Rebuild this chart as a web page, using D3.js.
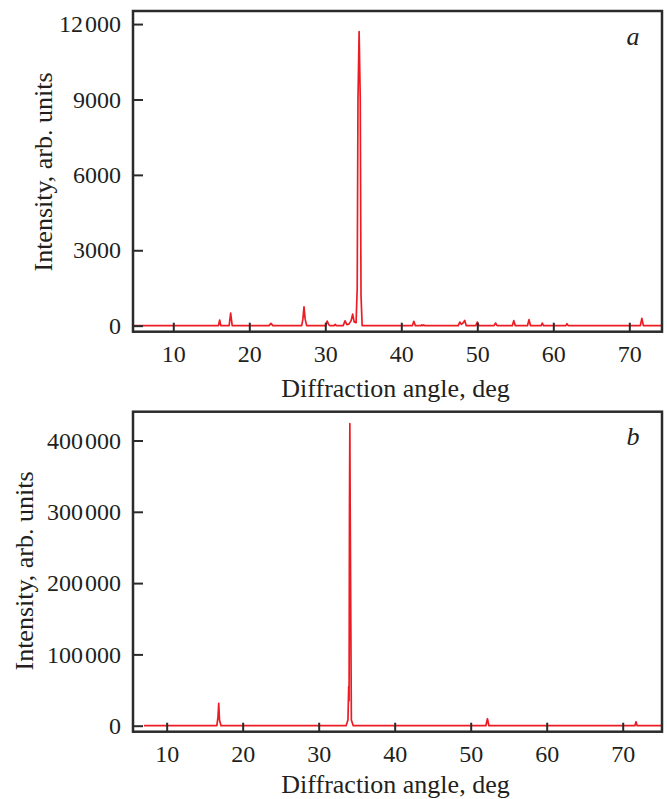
<!DOCTYPE html>
<html>
<head>
<meta charset="utf-8">
<script src="https://cdn.jsdelivr.net/npm/d3@7"></script>
<style>
  body { margin: 0; background: #fff; }
  svg { display: block; }
  text { font-family: "Liberation Serif", "Times New Roman", serif; fill: #231f20; }
</style>
</head>
<body>
<svg id="chart" width="667" height="799"></svg>
<script>
// diffraction pattern a: [angle, intensity]
var patternA = [
  [4.8, 0],
  [15.95, 0], [16.1, 225], [16.25, 0],
  [17.35, 0], [17.55, 500], [17.75, 0],
  [22.6, 0], [22.85, 90], [23.1, 0],
  [26.9, 0], [27.05, 260], [27.2, 750], [27.35, 260], [27.55, 0],
  [30.05, 0], [30.25, 185], [30.45, 40], [30.6, 0],
  [31.15, 0], [31.3, 50], [31.45, 0],
  [32.35, 0], [32.6, 190], [32.85, 40], [33.1, 60], [33.4, 200], [33.6, 460],
  [33.8, 150], [34.05, 120], [34.2, 1500], [34.3, 9000], [34.45, 11700],
  [34.6, 9000], [34.7, 1200], [34.85, 0],
  [41.45, 0], [41.65, 175], [41.85, 0],
  [42.6, 0], [42.7, 30], [42.8, 0], [42.95, 30], [43.05, 0],
  [47.5, 0], [47.7, 145], [47.9, 50], [48.1, 100], [48.35, 210], [48.55, 0],
  [49.8, 0], [50.0, 140], [50.2, 0],
  [52.2, 0], [52.4, 105], [52.6, 0],
  [54.6, 0], [54.8, 200], [55.0, 0],
  [56.6, 0], [56.8, 240], [57.0, 0],
  [58.4, 0], [58.55, 105], [58.7, 0],
  [61.65, 0], [61.8, 80], [61.95, 0],
  [71.45, 0], [71.65, 290], [71.85, 0],
  [74.3, 0]
];

// diffraction pattern b
var patternB = [
  [7.0, 0],
  [16.6, 0], [16.75, 12000], [16.85, 31500], [16.95, 8000], [17.15, 0],
  [33.6, 0], [33.85, 8000], [33.95, 54700], [34.0, 35000], [34.05, 300000],
  [34.1, 423600], [34.15, 300000], [34.3, 8000], [34.55, 0],
  [52.0, 0], [52.2, 9800], [52.4, 0],
  [71.6, 0], [71.75, 5600], [71.9, 0],
  [75.2, 0]
];

var xTicks = [10, 20, 30, 40, 50, 60, 70];
var yTicksA = [0, 3000, 6000, 9000, 12000];
var yLabelsA = ['0', '3000', '6000', '9000', '12\u200a000'];
var yTicksB = [0, 100000, 200000, 300000, 400000];
var yLabelsB = ['0', '100\u200a000', '200\u200a000', '300\u200a000', '400\u200a000'];

var xTitle = 'Diffraction angle, deg';
var yTitle = 'Intensity, arb. units';

var svg = d3.select('#chart');
var lineColor = '#ed1c24';
var axisColor = '#2b2b2b';

// one panel of the figure
function drawPanel(cfg) {
  var left = 133, right = 662;

  var x = d3.scaleLinear().domain(cfg.xDomain).range([left, right]);
  var y = d3.scaleLinear().domain(cfg.yDomain).range([cfg.bottom, cfg.top]);

  var g = svg.append('g');

  g.append('clipPath').attr('id', cfg.id + '-clip')
    .append('rect')
    .attr('x', left).attr('y', cfg.top)
    .attr('width', right - left).attr('height', cfg.bottom - cfg.top);

  var line = d3.line()
    .x(function (d) { return x(d[0]); })
    .y(function (d) { return y(d[1]); });

  g.append('path')
    .datum(cfg.data)
    .attr('clip-path', 'url(#' + cfg.id + '-clip)')
    .attr('d', line)
    .attr('fill', 'none')
    .attr('stroke', lineColor)
    .attr('stroke-width', 1.7)
    .attr('stroke-linejoin', 'round');

  // ticks point inward, labels outside
  var xAxis = g.append('g')
    .attr('transform', 'translate(0,' + cfg.bottom + ')')
    .call(d3.axisBottom(x).tickValues(xTicks).tickSize(-9).tickPadding(13));

  var yAxis = g.append('g')
    .attr('transform', 'translate(' + left + ',0)')
    .call(d3.axisLeft(y).tickValues(cfg.yTicks).tickSize(-10).tickPadding(12)
      .tickFormat(function (d, i) { return cfg.yLabels[i]; }));

  [xAxis, yAxis].forEach(function (a) {
    a.select('.domain').remove();
    a.attr('font-family', null).attr('font-size', 24);
    a.selectAll('line').attr('stroke', axisColor).attr('stroke-width', 2);
    a.selectAll('text').attr('font-size', 24).attr('fill', '#231f20');
  });

  g.append('rect')
    .attr('x', left).attr('y', cfg.top)
    .attr('width', right - left).attr('height', cfg.bottom - cfg.top)
    .attr('fill', 'none')
    .attr('stroke', axisColor)
    .attr('stroke-width', 2.5);

  g.append('text')
    .attr('x', (left + right) / 2 - 2)
    .attr('y', cfg.bottom + cfg.titleGap)
    .attr('text-anchor', 'middle')
    .style('font-size', '26px')
    .text(xTitle);

  g.append('text')
    .attr('transform', 'translate(' + cfg.yTitleX + ',' + cfg.yTitleY + ') rotate(-90)')
    .attr('text-anchor', 'middle')
    .style('font-size', '26px')
    .text(yTitle);

  g.append('text')
    .attr('x', 633)
    .attr('y', cfg.top + cfg.letterDy)
    .attr('text-anchor', 'middle')
    .style('font-size', '26px')
    .style('font-style', 'italic')
    .text(cfg.letter);
}

drawPanel({
  id: 'a', letter: 'a', data: patternA,
  xDomain: [4.7, 74.3], yDomain: [-240, 12520],
  top: 11, bottom: 331.7,
  yTicks: yTicksA, yLabels: yLabelsA,
  titleGap: 65, yTitleX: 52, yTitleY: 172, letterDy: 34
});

drawPanel({
  id: 'b', letter: 'b', data: patternB,
  xDomain: [5.57, 75.17], yDomain: [-8415, 440400],
  top: 411.7, bottom: 731.7,
  yTicks: yTicksB, yLabels: yLabelsB,
  titleGap: 61, yTitleX: 33, yTitleY: 571, letterDy: 33
});
</script>
</body>
</html>
